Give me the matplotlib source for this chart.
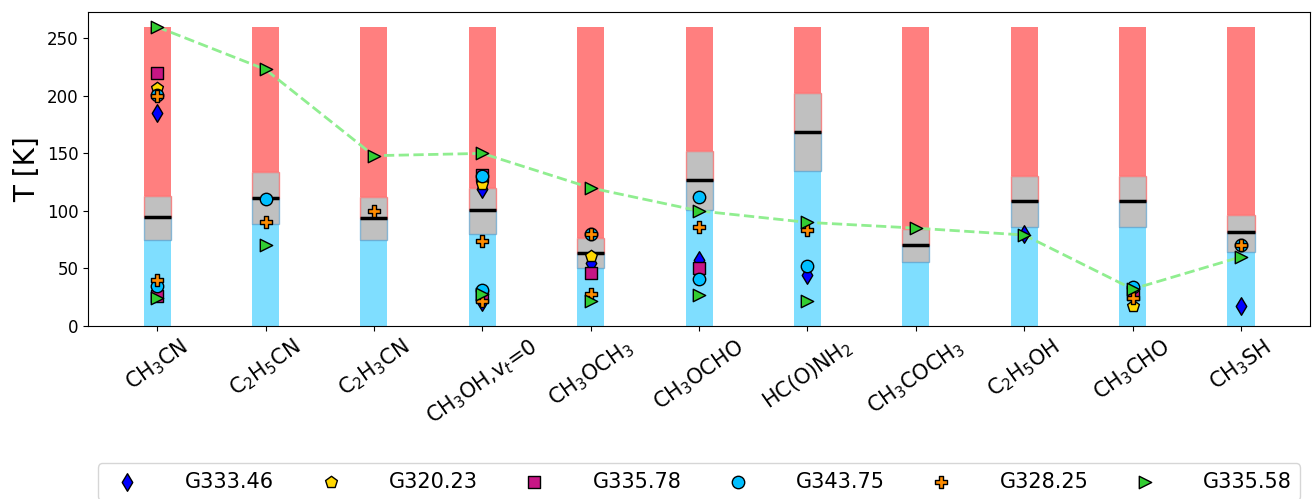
import numpy as np
import matplotlib
matplotlib.use("Agg")
import matplotlib.pyplot as plt

nan = np.nan

molecules = ['CH$_3$CN', 'C$_2$H$_5$CN', 'C$_2$H$_3$CN', 'CH$_3$OH,v$_t$=0', 'CH$_3$OCH$_3$',
             'CH$_3$OCHO', 'HC(O)NH$_2$', 'CH$_3$COCH$_3$', 'C$_2$H$_5$OH', 'CH$_3$CHO', 'CH$_3$SH']

# temperature ranges (low / median / high), top of red bar
t_low = [75, 89, 74.5, 80, 50, 101, 134.5, 55.5, 86, 86, 64]
t_med = [95, 111, 94, 101, 63.5, 127, 169, 70.5, 109, 109, 81.5]
t_high = [113, 134, 112.5, 120, 76, 152, 202.5, 84, 130.5, 130.5, 96.5]
t_top = [260] * 11

# source temperatures, two components (warm / cold)
g333_46_a = [185, nan, nan, 119, 55, 57, 44, nan, 80, nan, 17]
g333_46_b = [nan, nan, nan, 21, nan, nan, nan, nan, nan, nan, nan]
g320_23_a = [207, nan, nan, 123, 61, nan, nan, nan, nan, 17, nan]
g320_23_b = [nan] * 11
g335_78_a = [220, nan, nan, 131, 46, 50, nan, nan, nan, 28, nan]
g335_78_b = [26, nan, nan, 26, nan, nan, nan, nan, nan, nan, nan]
g343_75_a = [201, 110, nan, 130, 80, 112, 52, nan, nan, 34, 70]
g343_75_b = [35, nan, nan, 31, nan, 41, nan, nan, nan, nan, nan]
g328_25_a = [200, 90, 100, 74, 80, 86, 83, nan, nan, 24, 70]
g328_25_b = [40, nan, nan, 22, 28, nan, nan, nan, nan, nan, nan]
g335_58_a = [260, 223, 148, 150, 120, 100, 90, 85, 79, 32, 60]
g335_58_b = [24, 70, nan, 28, 22, 27, 22, nan, nan, nan, nan]

sources = [
    ('G333.46', g333_46_a, g333_46_b, 'd', 'blue'),
    ('G320.23', g320_23_a, g320_23_b, 'p', 'gold'),
    ('G335.78', g335_78_a, g335_78_b, 's', 'mediumvioletred'),
    ('G343.75', g343_75_a, g343_75_b, 'o', 'deepskyblue'),
    ('G328.25', g328_25_a, g328_25_b, 'P', 'darkorange'),
    ('G335.58', g335_58_a, g335_58_b, '>', 'limegreen'),
]

fig, ax = plt.subplots(figsize=(13.14, 4.99), dpi=100)
fig.subplots_adjust(left=0.067, right=0.997, top=0.976, bottom=0.347)

x = np.arange(len(molecules))
w = 0.25
low = np.array(t_low)
med = np.array(t_med)
high = np.array(t_high)
top = np.array(t_top)

ax.bar(x, low, width=w, color='deepskyblue', alpha=0.5, zorder=1)
ax.bar(x, top - high, bottom=high, width=w, color='red', alpha=0.5, zorder=1)
ax.bar(x, med - low, bottom=low, width=w, color='silver', edgecolor=(0.3, 0.6, 0.8, 0.6), zorder=2)
ax.bar(x, high - med, bottom=med, width=w, color='silver', edgecolor=(1.0, 0.3, 0.3, 0.6), zorder=2)
ax.hlines(med, x - w / 2, x + w / 2, color='black', lw=2.5, zorder=3)

ax.plot(x, g335_58_a, '--', color='lightgreen', lw=2, zorder=4)

for name, warm, cold, mk, col in sources:
    ax.scatter(x, warm, marker=mk, s=80, color=col, edgecolor='black', zorder=5, label=name)
    ax.scatter(x, cold, marker=mk, s=80, color=col, edgecolor='black', zorder=5)

ax.set_xticks(x)
ax.set_xticklabels(molecules, rotation=35, fontsize=15)
ax.tick_params(axis='y', labelsize=12)
ax.set_ylabel('T [K]', fontsize=20)

ax.legend(loc='upper center', bbox_to_anchor=(0.5, -0.405), ncol=6, fontsize=15,
          columnspacing=1.7, handletextpad=1.8)

fig.savefig('out.png', dpi=100)
